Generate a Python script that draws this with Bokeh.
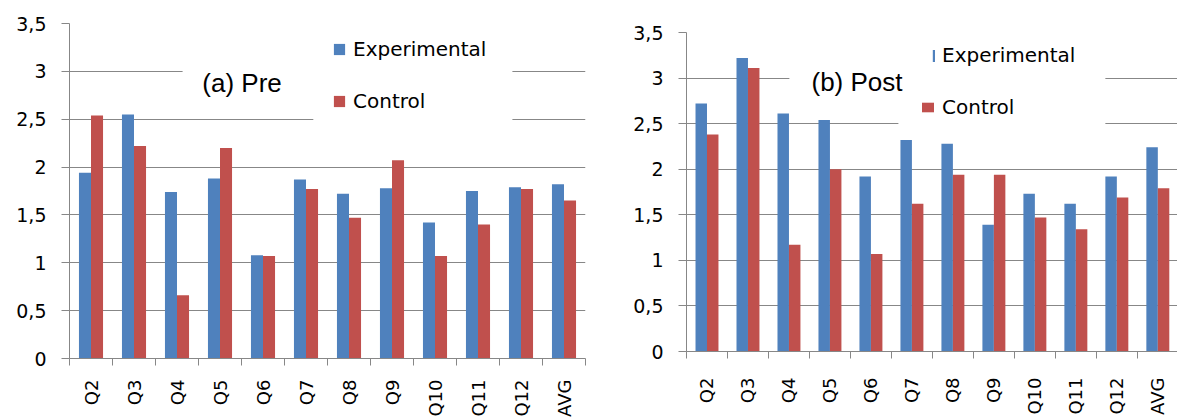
import math
from bokeh.plotting import figure
from bokeh.models import (ColumnDataSource, FixedTicker, BoxAnnotation, Label,
                          Legend, LegendItem, CustomJSTickFormatter)
from bokeh.layouts import row, column
from bokeh.transform import dodge
from bokeh.embed import file_html
from bokeh.resources import INLINE

# ---------------- data ----------------
categories = ["Q2", "Q3", "Q4", "Q5", "Q6", "Q7", "Q8", "Q9", "Q10", "Q11", "Q12", "AVG"]
pre_experimental = [1.94, 2.55, 1.74, 1.88, 1.08, 1.87, 1.72, 1.78, 1.42, 1.75, 1.79, 1.82]
pre_control = [2.54, 2.22, 0.66, 2.20, 1.07, 1.77, 1.47, 2.07, 1.07, 1.40, 1.77, 1.65]
post_experimental = [2.72, 3.22, 2.61, 2.54, 1.92, 2.32, 2.28, 1.39, 1.73, 1.62, 1.92, 2.24]
post_control = [2.38, 3.11, 1.17, 2.00, 1.07, 1.62, 1.94, 1.94, 1.47, 1.34, 1.69, 1.79]
y_ticks = [0, 0.5, 1, 1.5, 2, 2.5, 3, 3.5]
series_names = ["Experimental", "Control"]
titles = ["(a) Pre", "(b) Post"]

BLUE = "#4F81BD"
RED = "#C0504D"
GRID = "#878787"
TICK_FONT = "DejaVu Sans"


def make_chart(exp_vals, ctrl_vals, title, fig_w, fig_h, b_left, b_right, b_top, b_bottom,
               x_end, x_standoff, title_pos, title_mask, legend_mask, legend_cfg):
    src = ColumnDataSource(dict(x=list(range(len(categories))), cat=categories,
                                exp=exp_vals, ctrl=ctrl_vals))
    p = figure(width=fig_w, height=fig_h, x_range=(-0.5, x_end), y_range=(0, 3.5),
               output_backend="svg", toolbar_location=None,
               min_border_left=b_left, min_border_right=b_right,
               min_border_top=b_top, min_border_bottom=b_bottom)
    p.outline_line_color = None
    p.background_fill_color = "white"
    p.border_fill_color = "white"

    r_exp = p.vbar(x=dodge("x", -0.14), top="exp", width=0.28, source=src,
                   fill_color=BLUE, line_color=None)
    r_ctrl = p.vbar(x=dodge("x", 0.14), top="ctrl", width=0.28, source=src,
                    fill_color=RED, line_color=None)

    # x axis: labels at centres, tick marks between categories
    xa = p.xaxis[0]
    xa.ticker = FixedTicker(ticks=list(range(len(categories))),
                            minor_ticks=[i - 0.5 for i in range(len(categories) + 1)])
    xa.formatter = CustomJSTickFormatter(args=dict(cats=categories),
                                         code="const c = cats[Math.round(tick)]; return c === undefined ? '' : c;")
    xa.major_tick_out = 0
    xa.major_tick_in = 0
    xa.minor_tick_out = 7
    xa.minor_tick_in = 0
    xa.minor_tick_line_color = GRID
    xa.axis_line_color = GRID
    xa.major_label_orientation = math.pi / 2
    xa.major_label_standoff = x_standoff
    xa.major_label_text_font = TICK_FONT
    xa.major_label_text_font_size = "18px"
    xa.major_label_text_color = "black"
    p.xgrid.visible = False

    ya = p.yaxis[0]
    ya.ticker = FixedTicker(ticks=y_ticks)
    ya.formatter = CustomJSTickFormatter(code="return tick.toString().replace('.', ',');")
    ya.major_tick_out = 8
    ya.major_tick_in = 0
    ya.major_tick_line_color = GRID
    ya.minor_tick_line_color = None
    ya.axis_line_color = GRID
    ya.major_label_standoff = 15
    ya.major_label_text_font = TICK_FONT
    ya.major_label_text_font_size = "19px"
    ya.major_label_text_color = "black"
    p.ygrid.grid_line_color = GRID
    p.ygrid.ticker = FixedTicker(ticks=y_ticks)

    # white boxes behind title and legend (they hide the grid lines)
    for (l, r, b, t) in (title_mask, legend_mask):
        p.add_layout(BoxAnnotation(left=l, right=r, bottom=b, top=t,
                                   fill_color="white", fill_alpha=1.0,
                                   line_color=None))

    p.add_layout(Label(x=title_pos[0], y=title_pos[1], text=title,
                       text_font="Liberation Sans", text_font_size="26px",
                       text_color="black", text_baseline="alphabetic"))

    renderers = [r_exp, r_ctrl]
    for cfg in legend_cfg:
        items = [LegendItem(label=series_names[i], renderers=[renderers[i]]) for i in cfg["items"]]
        leg = Legend(items=items, location=cfg["loc"], orientation="vertical",
                     glyph_width=cfg["gw"], glyph_height=cfg["gh"],
                     label_height=24, spacing=cfg.get("spacing", 0),
                     padding=0, margin=0, label_standoff=7,
                     border_line_color=None, background_fill_alpha=0,
                     label_text_font=TICK_FONT, label_text_font_size="20px",
                     label_text_color="black")
        p.add_layout(leg)
    return p


# left frame: page y 23 (3.5) .. 358 (0)
p1 = make_chart(pre_experimental, pre_control, titles[0],
                fig_w=608, fig_h=428, b_left=69, b_right=23, b_top=23, b_bottom=70, x_end=11.5,
                x_standoff=14,
                title_pos=(2.59, 2.88),
                title_mask=(2.13, 5.2, 2.7, 3.3),
                legend_mask=(5.17, 9.8, 2.38, 3.7),
                legend_cfg=[dict(items=[0, 1], loc=(263, 245), gw=14, gh=14, spacing=28)])

# right frame: page y 32 (3.5) .. 351 (0)
p2 = make_chart(post_experimental, post_control, titles[1],
                fig_w=569, fig_h=421, b_left=78, b_right=0, b_top=32, b_bottom=70, x_end=11.48,
                x_standoff=19,
                title_pos=(2.55, 2.96),
                title_mask=(2.01, 4.7, 2.7, 3.3),
                legend_mask=(4.67, 9.72, 2.36, 3.7),
                legend_cfg=[dict(items=[0], loc=(246, 284), gw=3, gh=15),
                            dict(items=[1], loc=(234, 232), gw=15, gh=12)])

layout = row(column(p1), column(p2), styles={"height": "419px", "overflow": "hidden"})

open("out.html", "w").write(file_html(layout, INLINE))
